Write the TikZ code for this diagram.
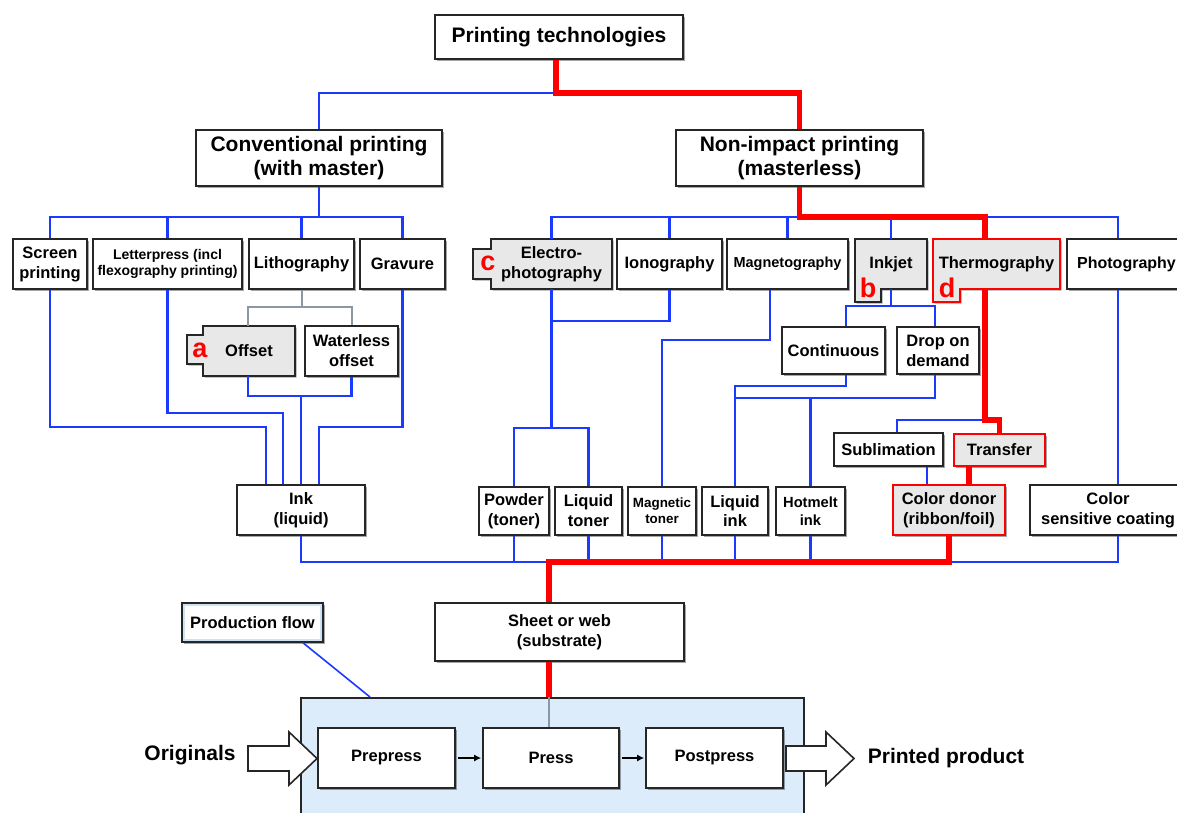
\documentclass[tikz,border=0pt]{standalone}
\usepackage{fontspec}
\setmainfont{Liberation Sans}
\usetikzlibrary{shadows,arrows.meta}

\definecolor{lnblue}{RGB}{28,58,255}
\definecolor{lnred}{RGB}{255,0,0}
\definecolor{lngray}{RGB}{138,152,166}
\definecolor{boxedge}{RGB}{38,38,38}
\definecolor{tabfill}{RGB}{232,232,232}
\definecolor{flowfill}{RGB}{220,236,250}
\definecolor{frameblue}{RGB}{205,226,246}

% bold text at a given size and baseline skip
\newcommand\fsz[2]{\bfseries\fontsize{#1}{#2}\selectfont}
% box given by its corners: \bx[options]{name}{x1}{y1}{x2}{y2}{text}
\newcommand\bx[7][]{%
  \node[box,minimum width={(#5-#3)*1pt},minimum height={(#6-#4)*1pt},#1]
    (#2) at ({(#3+#5)/2},{(#4+#6)/2}) {#7};}

\tikzset{
  shadowed/.style={drop shadow={shadow xshift=1.6pt,shadow yshift=-1.6pt,opacity=0.35,fill=black}},
  box/.style={draw=boxedge,line width=1.6pt,fill=white,inner sep=0pt,align=center,
              font=\fsz{16.5}{20},shadowed},
  txt/.style={inner sep=0pt,align=center,font=\fsz{16.5}{20}},
  tag/.style={inner sep=0pt,text=lnred,font=\fsz{27}{27}},
  tabshape/.style={draw=boxedge,line width=1.6pt,fill=tabfill,shadowed},
  hot/.style={draw=lnred,line width=2.4pt,fill=tabfill},
  bl/.style={draw=lnblue,line width=2.2pt},
  rd/.style={draw=lnred,line width=5.5pt},
  gr/.style={draw=lngray,line width=2pt},
  hollow/.style={draw=boxedge,line width=1.6pt,fill=white,line join=miter},
  flowarrow/.style={-{Latex[length=7pt,width=7pt]},line width=1.6pt,shorten <=2pt,shorten >=1pt},
}

\begin{document}
\begin{tikzpicture}[x=1pt,y=-1pt]
\useasboundingbox (0,0) rectangle (1177,812);
\fill[white] (0,0) rectangle (1177,812);

% ---------- production area ----------
\node[draw=boxedge,line width=1.6pt,fill=flowfill,minimum width=503pt,minimum height=140pt,
      inner sep=0pt,anchor=north west] (prod) at (300,697) {};

% ---------- top levels ----------
\bx[font=\fsz{21}{24}]{title}{435}{15}{683}{59}{Printing technologies}
\bx[font=\fsz{21}{24}]{conv}{196}{130}{442}{186}{Conventional printing\\(with master)}
\bx[font=\fsz{21}{24}]{noni}{676}{130}{923}{186}{Non-impact printing\\(masterless)}

% ---------- conventional processes ----------
\bx{screen}{13}{239}{87}{289}{Screen\\printing}
\bx[font=\fsz{14}{16.5}]{letter}{93}{239}{242}{289}{Letterpress (incl\\flexography printing)}
\bx{litho}{249}{239}{354}{289}{Lithography}
\bx{gravure}{360}{239}{445}{289}{Gravure}

\draw[tabshape] (203,326) -- (295,326) -- (295,376) -- (203,376) -- (203,364)
  -- (187,364) -- (187,335) -- (203,335) -- cycle;
\node[txt,minimum width=92pt,minimum height=50pt] (off) at (249,351) {Offset};
\node[tag] (taga) at (200,350) {a};
\bx{wless}{305}{326}{398}{376}{Waterless\\offset}

% ---------- non-impact processes ----------
\draw[tabshape] (491,239) -- (612,239) -- (612,289) -- (491,289) -- (491,279)
  -- (473,279) -- (473,249) -- (491,249) -- cycle;
\node[txt,minimum width=121pt,minimum height=50pt] (electro) at (551.5,264) {Electro-\\photography};
\node[tag] (tagc) at (488,263) {c};
\bx{iono}{617}{239}{722}{289}{Ionography}
\bx[font=\fsz{14.5}{17}]{magneto}{727}{239}{848}{289}{Magnetography}

\draw[tabshape] (855,239) -- (927,239) -- (927,289) -- (881,289) -- (881,302) -- (855,302) -- cycle;
\node[txt,minimum width=72pt,minimum height=50pt] (inkjet) at (891,264) {Inkjet};
\node[tag] (tagb) at (868,288) {b};

\draw[tabshape,draw=lnred,line width=2.4pt] (933,239) -- (1060,239) -- (1060,289) -- (960,289)
  -- (960,302) -- (933,302) -- cycle;
\node[txt,minimum width=127pt,minimum height=50pt] (thermo) at (996.5,264) {Thermography};
\node[tag] (tagd) at (947,288) {d};

\bx[font=\fsz{16}{20}]{photo}{1067}{239}{1186}{289}{Photography}

\bx{cont}{782}{327}{885}{374}{Continuous}
\bx{dod}{897}{327}{979}{374}{Drop on\\demand}
\bx{subl}{834}{433}{943}{466}{Sublimation}
\bx[hot]{transfer}{954}{434}{1045}{466}{Transfer}

% ---------- colorants ----------
\bx{ink}{237}{485}{365}{535}{Ink\\(liquid)}
\bx{powder}{479}{487}{549}{535}{Powder\\(toner)}
\bx{ltoner}{555}{487}{622}{535}{Liquid\\toner}
\bx[font=\fsz{13.4}{16}]{mtoner}{628}{487}{696}{535}{Magnetic\\toner}
\bx[font=\fsz{16.5}{19}]{lqink}{702}{487}{768}{535}{Liquid\\ink}
\bx[font=\fsz{14.7}{18}]{hotmelt}{776}{487}{845}{535}{Hotmelt\\ink}
\bx[hot]{donor}{893}{485}{1005}{535}{Color donor\\(ribbon/foil)}
\bx{csc}{1030}{485}{1186}{535}{Color\\sensitive coating}

% ---------- substrate and production flow ----------
\bx{sheet}{435}{603}{684}{661}{Sheet or web\\(substrate)}
\bx{pflow}{182}{603}{323}{642}{Production flow}
\draw[frameblue,line width=2.5pt] ([shift={(2.8,2.8)}]pflow.north west)
  rectangle ([shift={(-2.8,-2.8)}]pflow.south east);

\bx{prepress}{318}{728}{455}{788}{Prepress}
\bx{press}{483}{728}{619}{788}{Press}
\bx{postpress}{646}{728}{783}{788}{Postpress}

\node[txt,font=\fsz{21}{24}] (orig) at (190,755) {Originals};
\node[txt,font=\fsz{21}{24}] (printed) at (946,758) {Printed product};

% ---------- connectors: top ----------
\coordinate (j0) at (556,93);
\draw[bl] (j0) -| (conv.north);
\draw[rd] (title.south -| j0) -- (j0) -| (noni.north);

% conventional branch
\coordinate (j1) at (319,217);
\draw[bl] (conv.south) -- (j1);
\draw[bl] (screen.north) |- (j1) -| (gravure.north);
\draw[bl] (letter.north) -- (letter.north |- j1);
\draw[bl] (litho.north) -- (litho.north |- j1);

\coordinate (j2) at (301,307);
\draw[gr] (litho.south) -- (litho.south |- j2);
\draw[gr] (off.north -| 248,0) |- (j2) -| (wless.north);

\coordinate (j3) at (301,396);
\draw[bl] (off.south -| 248,0) |- (j3) -| (wless.south);
\draw[bl] (j3) -- (ink.north);
\draw[bl] (screen.south) |- (266,427) -- (266,0 |- ink.north);
\draw[bl] (letter.south) |- (283,413) -- (283,0 |- ink.north);
\draw[bl] (gravure.south) |- (319,427) -- (319,0 |- ink.north);

% non-impact branch
\coordinate (j4) at (800,217);
\coordinate (j5) at (985,217);
\draw[bl] (electro.north) |- (j4);
\draw[bl] (iono.north) -- (iono.north |- j4);
\draw[bl] (magneto.north) -- (magneto.north |- j4);
\draw[bl] (inkjet.north) -- (inkjet.north |- j4);
\draw[bl] (j5) -| (1118,0 |- photo.north);

\draw[bl] (iono.south) |- (electro.south |- 0,321);
\draw[bl] (electro.south) -- (electro.south |- 0,428);
\draw[bl] (powder.north) |- (electro.south |- 0,428) -| (ltoner.north);

\draw[bl] (magneto.south -| 770,0) |- (mtoner.north |- 0,340) -- (mtoner.north);

\coordinate (j7) at (891,306);
\draw[bl] (inkjet.south) -- (j7);
\draw[bl] (846,0 |- cont.north) |- (j7) -| (935,0 |- dod.north);
\draw[bl] (846,0 |- cont.south) |- (lqink.north |- 0,386) -- (lqink.north);
\draw[bl] (935,0 |- dod.south) |- (lqink.north |- 0,398);
\draw[bl] (hotmelt.north) -- (hotmelt.north |- 0,398);

\coordinate (j8) at (985,420);
\draw[bl] (897,0 |- subl.north) |- (j8);
\draw[bl] (927,0 |- subl.south) -- (927,0 |- donor.north);
\draw[bl] (1118,0 |- photo.south) -- (1118,0 |- csc.north);

% bus to the substrate
\coordinate (j9) at (549,562);
\draw[bl] (ink.south) |- (j9);
\draw[bl] (powder.south) -- (powder.south |- j9);
\draw[bl] (ltoner.south) -- (ltoner.south |- j9);
\draw[bl] (mtoner.south) -- (mtoner.south |- j9);
\draw[bl] (lqink.south) -- (lqink.south |- j9);
\draw[bl] (hotmelt.south) -- (hotmelt.south |- j9);
\draw[bl] (1118,0 |- csc.south) |- (donor.south |- j9);

% highlighted path
\draw[rd] (noni.south) |- (j5) -- (j5 |- thermo.north);
\draw[rd] (j5 |- thermo.south) -- (j8) -| (transfer.north);
\draw[rd] (969,0 |- transfer.south) -- (969,0 |- donor.north);
\draw[rd] (donor.south) |- (j9) -- (j9 |- sheet.north);
\draw[rd] (j9 |- sheet.south) -- (j9 |- prod.north);
\draw[gr,line width=1.6pt] (j9 |- prod.north) -- (j9 |- press.north);

% production flow
\draw[bl,line width=1.6pt] (303,0 |- pflow.south) -- (370,0 |- prod.north);
\draw[flowarrow] (prepress) -- (press);
\draw[flowarrow] (press) -- (postpress);

% input and output arrows
\draw[hollow] (248,746) -- (289,746) -- (289,732) -- (317,758.5) -- (289,785)
  -- (289,771) -- (248,771) -- cycle;
\draw[hollow] (786,746) -- (826,746) -- (826,732) -- (854,758.5) -- (826,785)
  -- (826,771) -- (786,771) -- cycle;
\end{tikzpicture}
\end{document}
